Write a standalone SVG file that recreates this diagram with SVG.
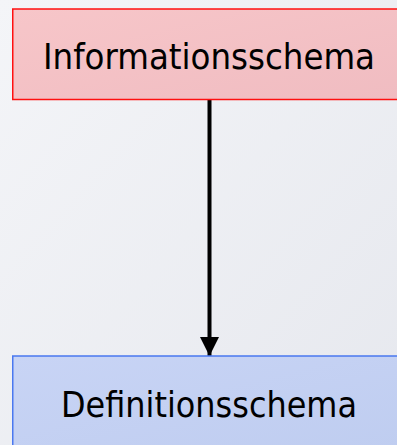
<svg xmlns="http://www.w3.org/2000/svg" width="397" height="445" viewBox="0 0 397 445">
  <defs>
    <linearGradient id="bg" x1="0" y1="0" x2="1" y2="1">
      <stop offset="0" stop-color="#f4f5f8"/>
      <stop offset="1" stop-color="#e6e8ee"/>
    </linearGradient>
    <linearGradient id="redFill" x1="0" y1="0" x2="1" y2="1">
      <stop offset="0" stop-color="#f7c6c9"/>
      <stop offset="1" stop-color="#f0bcc1"/>
    </linearGradient>
    <linearGradient id="blueFill" x1="0" y1="0" x2="1" y2="1">
      <stop offset="0" stop-color="#c8d4f5"/>
      <stop offset="1" stop-color="#bfcdf0"/>
    </linearGradient>
    <marker id="arrow" viewBox="0 0 10 10" refX="10" refY="5" markerUnits="userSpaceOnUse" markerWidth="19" markerHeight="19" orient="auto">
      <path d="M0,0 L10,5 L0,10 Z" fill="#000"/>
    </marker>
  </defs>
  <style>
    .label { font-family: "DejaVu Sans Condensed", "DejaVu Sans", sans-serif; font-stretch: condensed; font-size: 36px; fill: #000; text-anchor: middle; }
  </style>
  <rect x="0" y="0" width="397" height="445" fill="url(#bg)"/>
  <g id="connectors">
    <line x1="209.5" y1="100" x2="209.5" y2="356" stroke="#000" stroke-width="4" marker-end="url(#arrow)"/>
  </g>
  <g id="node-informationsschema">
    <rect x="12.75" y="9" width="393" height="90.5" fill="url(#redFill)" stroke="#ff1010" stroke-width="1.5"/>
    <text class="label" x="209" y="69" textLength="332" lengthAdjust="spacingAndGlyphs">Informationsschema</text>
  </g>
  <g id="node-definitionsschema">
    <rect x="12.75" y="356" width="393" height="92" fill="url(#blueFill)" stroke="#4a78f0" stroke-width="1.5"/>
    <text class="label" x="209" y="417" textLength="296" lengthAdjust="spacingAndGlyphs">Definitionsschema</text>
  </g>
</svg>
